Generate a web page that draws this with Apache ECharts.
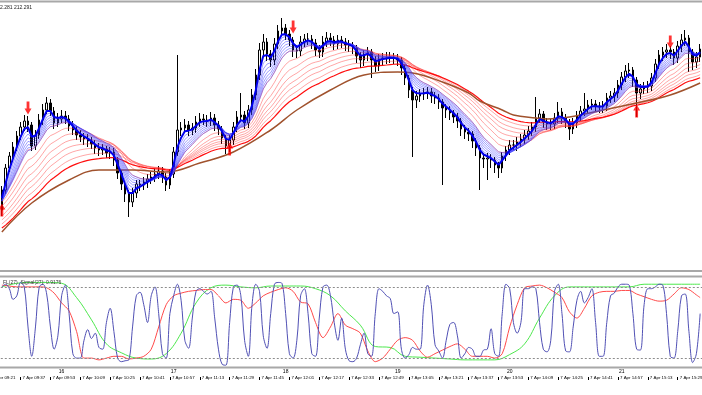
<!DOCTYPE html>
<html><head><meta charset="utf-8">
<script src="https://cdn.jsdelivr.net/npm/echarts@6/dist/echarts.min.js"></script>
<style>html,body{margin:0;padding:0;background:#fff}#c{width:702px;height:395px}</style>
</head><body><div id="c"></div>
<script>
// ---- tick labels ----
const timeLabels = ['7 Apr 09:21','7 Apr 09:37','7 Apr 09:53','7 Apr 10:09','7 Apr 10:25','7 Apr 10:41','7 Apr 10:57','7 Apr 11:13','7 Apr 11:29','7 Apr 11:45','7 Apr 12:01','7 Apr 12:17','7 Apr 12:33','7 Apr 12:49','7 Apr 13:05','7 Apr 13:21','7 Apr 13:37','7 Apr 13:53','7 Apr 14:09','7 Apr 14:25','7 Apr 14:41','7 Apr 14:57','7 Apr 15:13','7 Apr 15:29'];
const hourLabels = ['16','17','18','19','20','21'];

// ---- price bars (2-minute bars, price in chart points) ----
const opens = [58,78,100,112,121,132,141,147,143,122, 133,148,158,165,157,145,149,152,149,142, 138,133,131,129,127,124,120,118,119,115, 116,108,95,84,74,66,75,84,83,86, 89,91,94,97,91,83,94,116,138,140, 143,138,140,146,149,148,147,150,143,139, 130,122,128,141,151,153,145,158,173,193, 218,226,214,208,224,237,240,234,228,218, 217,226,229,229,225,218,216,226,230,228, 224,228,226,223,222,220,212,208,213,216, 208,202,209,210,210,211,210,208,200,190, 178,168,172,174,175,176,172,170,166,160, 158,155,151,147,139,136,134,127,120,110, 109,110,108,103,100,112,118,123,123,126, 129,133,137,141,150,154,146,144,144,150, 156,150,146,139,145,152,157,159,163,164, 162,161,162,170,172,175,183,191,197,198, 188,175,179,181,182,190,204,213,216,218, 216,210,222,228,230,216,206,211];
const closes = [78,100,112,121,132,141,147,143,122,133, 148,158,165,157,145,149,152,149,142,138, 133,131,129,127,124,120,118,119,115,116, 108,95,84,74,66,75,84,83,86,89, 91,94,97,91,83,94,116,138,140,143, 138,140,146,149,148,147,150,143,139,130, 122,128,141,151,153,145,158,173,193,218, 226,214,208,224,237,240,234,228,218,217, 226,229,229,225,218,216,226,230,228,224, 228,226,223,222,220,212,208,213,216,208, 202,209,210,210,211,210,208,200,190,178, 168,172,174,175,176,172,170,166,160,158, 155,151,147,139,136,134,127,120,110,109, 110,108,103,100,112,118,123,123,126,129, 133,137,141,150,154,146,144,144,150,156, 150,146,139,145,152,157,159,163,164,162, 161,162,170,172,175,183,191,197,198,188, 175,179,181,182,190,204,213,216,218,216, 210,222,228,230,216,206,211,219];
const lows = [52,74,96,106,117,128,137,136,117,118, 129,143,154,152,139,141,145,144,137,133, 128,126,123,121,119,114,112,113,110,109, 102,89,78,66,51,61,70,77,78,80, 84,86,89,85,77,79,90,112,132,135, 132,133,135,141,143,141,142,137,133,124, 114,116,123,136,146,139,140,153,168,188, 212,207,201,203,219,232,228,222,211,210, 212,221,223,219,212,210,211,221,222,218, 219,220,217,216,214,205,200,202,207,190, 196,197,203,204,205,204,202,193,183,170, 111,160,166,168,169,165,164,159,83,150, 148,145,140,132,129,127,120,112,78,100, 88,100,95,90,95,107,113,118,117,121, 124,128,132,136,145,140,138,138,139,145, 144,140,128,134,140,147,152,154,158,156, 155,155,157,165,166,170,178,186,190,181, 151,169,174,175,177,186,199,207,210,209, 203,205,216,222,196,198,200,206];
const highs = [82,104,116,126,137,146,153,152,146,138, 154,164,171,169,161,155,158,157,153,147, 142,138,135,134,131,128,125,124,122,121, 120,111,98,87,78,80,88,88,91,94, 96,99,102,101,95,99,121,213,146,149, 147,145,152,155,154,153,156,154,147,142, 133,133,146,157,175,157,163,179,199,225, 234,230,218,230,243,250,244,238,231,223, 232,234,235,233,229,223,232,236,235,232, 233,232,230,228,226,223,216,218,221,219, 212,214,215,216,216,215,214,211,203,193, 181,177,179,180,181,180,176,174,169,164, 162,158,155,150,143,140,137,130,123,115, 115,114,111,106,116,122,128,128,131,134, 138,142,146,171,159,157,150,149,155,166, 160,154,149,150,157,162,175,168,169,168, 166,167,175,177,180,188,196,203,205,201, 191,184,186,187,195,209,218,221,224,222, 219,227,234,238,233,219,216,224];

// ---- moving average ribbons (periods in bars, starting values read at left edge) ----
const bluePeriods = [3,4,5,6,7,8,9,10];
const blueSeeds   = [62,62,62,63,63,64,64,65];
const redPeriods  = [10,14,18,22,26,30,35,40];
const redSeeds    = [68,64,60,55,50,46,42,38];
// slow brown average as [bar, price]
const brownLine = [[0,36],[8,65],[18,88],[26,98],[35,98],[44,96],[53,105],[62,116],[72,138],[79,158],[88,178],[97,193],[106,196],[110,195],[118,186],[125,175],[128,167],[134,158],[137,153],[143,150],[146,149],[152,151],[161,158],[170,165],[179,173],[187,185]];

// ---- signal arrows [bar, price] ----
const arrowsDown = [[7,160],[78,241],[179,226]];
const arrowsUp   = [[0,58],[61,119],[170,157]];

// ---- lower oscillator panel ----
const oscBlue = [.9,.93,.88,.76,.8,.95,.9,.45,.12,.45, .9,.93,.82,.45,.2,.35,.8,.92,.6,.15, .1,.1,.3,.42,.32,.38,.22,.2,.5,.66, .4,.1,.06,.07,.08,.45,.8,.84,.7,.5, .8,.9,.6,.15,.1,.6,.8,.93,.75,.3, .21,.55,.85,.88,.85,.82,.85,.55,.2,.03, .02,.5,.9,.92,.8,.3,.12,.7,.93,.85, .35,.21,.6,.93,.95,.94,.6,.15,.1,.3, .8,.88,.6,.15,.12,.55,.9,.92,.8,.5, .3,.55,.2,.07,.06,.1,.25,.38,.15,.12, .6,.88,.85,.8,.77,.6,.62,.2,.1,.14, .22,.2,.2,.7,.92,.7,.25,.18,.1,.3, .48,.5,.35,.1,.15,.22,.2,.12,.12,.19, .2,.43,.15,.12,.6,.93,.88,.5,.38,.5, .88,.88,.9,.88,.5,.2,.17,.3,.85,.93, .6,.18,.17,.45,.75,.85,.72,.78,.88,.5, .12,.12,.5,.8,.83,.9,.93,.93,.92,.6, .2,.19,.7,.88,.88,.9,.93,.92,.6,.12, .1,.4,.8,.82,.4,.05,.15,.6];
const oscRed = [[0,.92],[2,.91],[4,.9],[6,.9],[8,.9],[10,.9],[12,.89],[14,.83],[16,.72],[18,.63],[20,.4],[22,.1],[24,.1],[26,.08],[28,.1],[30,.12],[32,.12],[34,.09],[36,.1],[38,.12],[40,.2],[42,.45],[44,.7],[46,.8],[48,.83],[50,.85],[52,.86],[54,.87],[56,.87],[58,.8],[60,.72],[62,.76],[64,.75],[66,.66],[68,.72],[70,.8],[72,.84],[74,.87],[76,.89],[78,.85],[80,.73],[82,.71],[84,.5],[86,.33],[88,.45],[90,.6],[92,.47],[94,.43],[96,.38],[98,.18],[100,.06],[102,.1],[104,.2],[106,.3],[108,.33],[110,.3],[112,.18],[114,.11],[116,.15],[118,.19],[120,.23],[122,.26],[124,.2],[126,.12],[128,.12],[130,.12],[132,.1],[134,.15],[136,.45],[138,.7],[140,.89],[142,.91],[144,.92],[146,.89],[148,.84],[150,.78],[152,.62],[154,.55],[156,.66],[158,.8],[160,.84],[162,.85],[164,.85],[166,.86],[168,.86],[170,.82],[172,.79],[174,.76],[176,.74],[178,.75],[180,.82],[182,.89],[184,.87],[186,.81],[187,.78]];
const oscGreen = [[0,.9],[4,.94],[8,.95],[12,.95],[16,.94],[20,.78],[24,.53],[28,.26],[32,.16],[36,.1],[40,.09],[44,.15],[48,.38],[52,.72],[56,.89],[60,.92],[64,.9],[68,.89],[72,.91],[76,.91],[80,.91],[84,.88],[88,.8],[92,.63],[96,.47],[100,.23],[104,.22],[108,.12],[112,.11],[116,.1],[120,.09],[124,.08],[128,.08],[132,.08],[136,.14],[140,.26],[144,.55],[148,.8],[152,.9],[156,.9],[160,.9],[164,.9],[168,.9],[172,.93],[176,.93],[180,.93],[184,.93],[187,.93]];
const levels = [0.9, 0.1];

// ---- build ----
const PAD = 3;                       // leading (empty) bars 09:21..09:25
const M = closes.length + PAD;
const cats = []; for (let j = 0; j < M; j++) cats.push(j);
const candleData = Array(PAD).fill('-').concat(closes.map((c, i) => [opens[i], c, lows[i], highs[i]]));
function ema(p, seed) {
  const a = 2 / (p + 1); let e = seed; const out = Array(PAD).fill(null);
  for (const c of closes) { e += a * (c - e); out.push(+e.toFixed(2)); }
  return out;
}
const shift = arr => arr.map(([i, v]) => [i + PAD, v]);
const FONT = 'Liberation Sans';

const series = [];
series.push({type:'candlestick', xAxisIndex:0, yAxisIndex:0, data:candleData, barWidth:2, silent:true, z:2,
  itemStyle:{color:'#ffffff', color0:'#000000', borderColor:'#000000', borderColor0:'#000000', borderWidth:1}});
redPeriods.forEach((p, k) => {
  const last = k === redPeriods.length - 1;
  series.push({type:'line', xAxisIndex:0, yAxisIndex:0, data:ema(p, redSeeds[k]), symbol:'none', silent:true, z:3,
    lineStyle:{color:last ? '#ff0000' : '#ff3c3c', width:last ? 1.2 : 0.7, opacity:last ? 0.95 : 0.65}});
});
series.push({type:'line', xAxisIndex:0, yAxisIndex:0, data:shift(brownLine), symbol:'none', smooth:0.4, silent:true, z:3,
  lineStyle:{color:'#a0522d', width:1.5}});
for (let k = bluePeriods.length - 1; k >= 0; k--) {
  const fast = k === 0;
  series.push({type:'line', xAxisIndex:0, yAxisIndex:0, data:ema(bluePeriods[k], blueSeeds[k]), symbol:'none', silent:true, z:fast ? 5 : 4,
    lineStyle:{color:fast ? '#0000ee' : '#3c3cff', width:fast ? 2 : 0.7, opacity:fast ? 1 : 0.7}});
}
series.push({type:'scatter', xAxisIndex:0, yAxisIndex:0, data:shift(arrowsDown), silent:true, z:6,
  symbol:'path://M3,0L7,0L7,7L10,7L5,13L0,7L3,7Z', symbolSize:[7,13], itemStyle:{color:'#ff0000'}});
series.push({type:'scatter', xAxisIndex:0, yAxisIndex:0, data:shift(arrowsUp), silent:true, z:6,
  symbol:'path://M5,0L10,6L7,6L7,13L3,13L3,6L0,6Z', symbolSize:[7,13], itemStyle:{color:'#ff0000'}});

series.push({type:'line', xAxisIndex:1, yAxisIndex:1, data:shift(oscGreen), symbol:'none', smooth:0.4, silent:true,
  lineStyle:{color:'#4de84d', width:1}});
series.push({type:'line', xAxisIndex:1, yAxisIndex:1, data:shift(oscRed), symbol:'none', smooth:0.3, silent:true,
  lineStyle:{color:'#ff4a4a', width:1}});
series.push({type:'line', xAxisIndex:1, yAxisIndex:1, data:shift(oscBlue.map((v, i) => [i, v])), symbol:'none', smooth:0.35, silent:true,
  lineStyle:{color:'#5050b4', width:1},
  markLine:{silent:true, symbol:'none', label:{show:false}, animation:false,
    lineStyle:{color:'#8c8c8c', type:[2,2], width:1}, data:levels.map(v => ({yAxis:v}))}});

const grayLine = (y, w) => ({type:'line', silent:true, shape:{x1:0, y1:y, x2:702, y2:y}, style:{stroke:'#a8a8a8', lineWidth:w}});

const option = {
  animation:false,
  backgroundColor:'#ffffff',
  grid:[
    {left:-11.2, right:0, top:4, height:264, containLabel:false, outerBoundsMode:'none'},
    {left:-11.2, right:0, top:278, height:89, containLabel:false, outerBoundsMode:'none'}
  ],
  xAxis:[
    {type:'category', gridIndex:0, data:cats, boundaryGap:true, show:false},
    {type:'category', gridIndex:1, data:cats, boundaryGap:true, position:'bottom',
      axisLine:{show:false}, axisTick:{show:false}, splitLine:{show:false},
      axisLabel:{show:true, interval:(i) => i >= 19 && (i - 19) % 30 === 0,
        formatter:(v, i) => hourLabels[(i - 19) / 30] || '', fontSize:5, color:'#000', fontFamily:FONT, margin:2}},
    {type:'category', gridIndex:1, data:cats, boundaryGap:true, position:'bottom', offset:10,
      axisLine:{show:false}, splitLine:{show:false},
      axisTick:{show:true, alignWithLabel:true, length:3, interval:(i) => i % 8 === 0, lineStyle:{color:'#000', width:1}},
      axisLabel:{show:true, interval:(i) => i % 8 === 0, formatter:(v, i) => timeLabels[i / 8] || '',
        align:'left', fontSize:4.4, color:'#000', fontFamily:FONT, margin:-1, padding:[0,0,0,2]}}
  ],
  yAxis:[
    {type:'value', gridIndex:0, min:0, max:264, show:false},
    {type:'value', gridIndex:1, min:0, max:1, show:false}
  ],
  series,
  graphic:[
    grayLine(1.5, 2), grayLine(271, 2), grayLine(276.5, 2), grayLine(367.5, 2),
    {type:'text', left:0, top:5, silent:true, style:{text:'2.281 212.291', fontSize:5, fill:'#222', fontFamily:FONT}},
    {type:'text', left:3, top:280, silent:true, z:10, style:{text:'FL(27)  Signal(27): 0.9176', fontSize:5, fill:'#333', fontFamily:FONT}}
  ]
};
const chart = echarts.init(document.getElementById('c'));
chart.setOption(option);
</script>
</body></html>
